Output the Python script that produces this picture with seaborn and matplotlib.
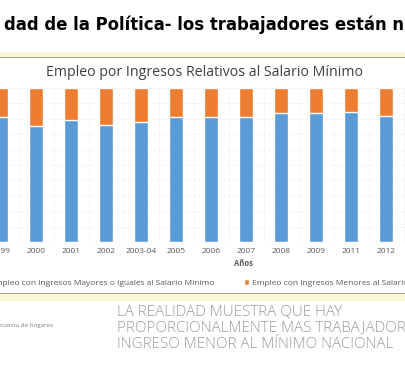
import matplotlib
matplotlib.use("Agg")
import matplotlib.pyplot as plt
from matplotlib.patches import Rectangle
import seaborn as sns
import pandas as pd

# datos (porcentaje del empleo)
anios = ["1999", "2000", "2001", "2002", "2003-04", "2005",
         "2006", "2007", "2008", "2009", "2011", "2012"]
mayores = [81, 75.5, 79, 76, 78, 81, 81.4, 81, 83.5, 83.5, 84.6, 81.8]
total = [100] * len(anios)

lbl_mayores = "Empleo con Ingresos Mayores o Iguales al Salario Mínimo"
lbl_menores = "Empleo con Ingresos Menores al Salario Mínimo"

AZUL = "#5B9BD5"
NARANJA = "#ED7D31"
W, H = 405, 370


def fy(py):
    # pixel (desde arriba) -> fraccion de figura
    return 1 - py / H


sns.set_theme(style="white")
plt.rcParams["font.family"] = ["Open Sans", "DejaVu Sans"]

df = pd.DataFrame({"anio": anios, "mayores": mayores, "total": total})

fig = plt.figure(figsize=(W / 100, H / 100), dpi=100)
fig.patch.set_facecolor("white")

# bandas amarillas de la diapositiva
fig.patches.append(Rectangle((0, fy(57)), 1, 5 / H, transform=fig.transFigure,
                             facecolor="#faf7d6", edgecolor="none"))
fig.patches.append(Rectangle((0, fy(58)), 1, 1.4 / H, transform=fig.transFigure,
                             facecolor="#a3a186", edgecolor="none"))
fig.patches.append(Rectangle((0, fy(301)), 1, 8 / H, transform=fig.transFigure,
                             facecolor="#faf7d6", edgecolor="none"))
fig.patches.append(Rectangle((0, fy(294)), 1, 1.4 / H, transform=fig.transFigure,
                             facecolor="#a3a186", edgecolor="none"))

# area del grafico (recortada a izquierda y derecha)
ax = fig.add_axes([0, fy(242), 1, (242 - 88) / H])
sns.barplot(data=df, x="anio", y="total", color=NARANJA, width=0.4,
            saturation=1, label=lbl_menores, ax=ax, zorder=3)
sns.barplot(data=df, x="anio", y="mayores", color=AZUL, width=0.4,
            saturation=1, label=lbl_mayores, ax=ax, zorder=3)
if ax.legend_ is not None:
    ax.legend_.remove()

ax.set_yticks(range(0, 101, 10))
ax.set_xticks([i / 3 - 0.5 for i in range(0, 40)], minor=True)
ax.set_xlim(-1 / 35, 404 / 35)
ax.set_ylim(0, 100)
ax.grid(True, which="major", axis="y", color="#e4e4e4", lw=0.6, ls=":")
ax.grid(True, which="minor", axis="x", color="#e4e4e4", lw=0.6, ls=":")
ax.set_axisbelow(True)
for s in ax.spines.values():
    s.set_visible(False)
ax.set_xlabel("")
ax.set_ylabel("")
ax.tick_params(axis="x", which="both", length=0, labelsize=6, labelcolor="#595959", pad=4)
ax.tick_params(axis="y", labelleft=False, length=0)
ax.set_facecolor("white")

fig.text(205 / W, fy(72), "Empleo por Ingresos Relativos al Salario Mínimo",
         ha="center", va="center", fontsize=10.2, color="#404040")
fig.text(243 / W, fy(263), "Años", ha="center", va="center",
         fontsize=5.5, fontweight="bold", color="#595959")

h, l = ax.get_legend_handles_labels()
fig.legend([h[1], h[0]], [l[1], l[0]], loc="center", ncol=2,
           bbox_to_anchor=(211 / W, fy(283)), frameon=False, fontsize=6.0,
           handlelength=0.6, handleheight=0.6, handletextpad=0.4,
           columnspacing=3.6, labelcolor="#595959")

# texto de la diapositiva
fig.text(4 / W, fy(25), "dad de la Política- los trabajadores están n",
         ha="left", va="center", fontsize=11.9, fontweight="bold",
         color="black", family=["DejaVu Sans"])
fig.text(0, fy(325), "cuesta de hogares", ha="left", va="center",
         fontsize=4.5, color="#808080")
fig.text(117 / W, fy(328),
         "LA REALIDAD MUESTRA QUE HAY\nPROPORCIONALMENTE MAS TRABAJADORES CON\n"
         "INGRESO MENOR AL MÍNIMO NACIONAL",
         ha="left", va="center", fontsize=10.9, color="#9c9c9c",
         fontweight="light", linespacing=1.1)

fig.savefig("out.png", dpi=100)
